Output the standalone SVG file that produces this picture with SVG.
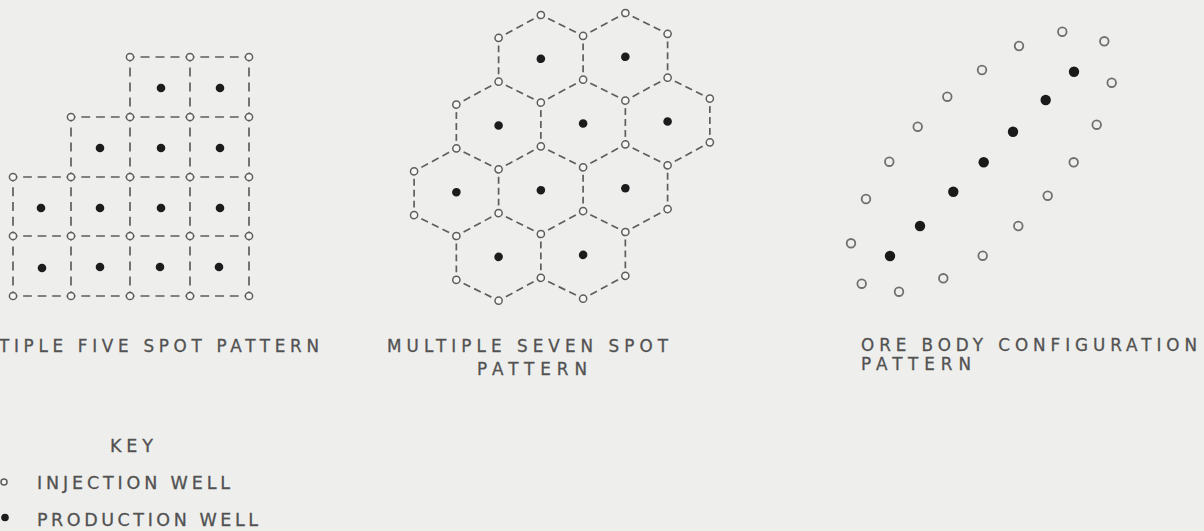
<svg xmlns="http://www.w3.org/2000/svg" width="1204" height="531" viewBox="0 0 1204 531">
<style>
.bg{fill:#eeeeec}
.e5{stroke:#5e5e5e;stroke-width:1.7;fill:none;stroke-dasharray:9 6;stroke-dashoffset:4.5}
.e7{stroke:#5e5e5e;stroke-width:1.7;fill:none;stroke-dasharray:7.5 4.5;stroke-dashoffset:3.75}
.inj{fill:#f6f6f4;stroke:#5e5e5e;stroke-width:1.5}
.prod{fill:#1c1c1c}
.oinj{fill:none;stroke:#707070;stroke-width:1.8}
.oprod{fill:#1a1a1a}
.t{font-family:"DejaVu Sans","Liberation Sans",Arial,sans-serif;font-size:16.8px;fill:#525252;stroke:#525252;stroke-width:0.3}
.k{font-size:17.5px}
</style>
<rect class="bg" x="0" y="0" width="1204" height="531"/>

<!-- Multiple five spot pattern -->
<g id="five-spot">
  <g id="five-spot-connectors">
    <line class="e5" pathLength="60" x1="130" y1="57" x2="190" y2="57"/>
    <line class="e5" pathLength="60" x1="190" y1="57" x2="249" y2="57"/>
    <line class="e5" pathLength="60" x1="71" y1="117" x2="130" y2="117"/>
    <line class="e5" pathLength="60" x1="130" y1="117" x2="190" y2="117"/>
    <line class="e5" pathLength="60" x1="190" y1="117" x2="249" y2="117"/>
    <line class="e5" pathLength="60" x1="13" y1="177" x2="71" y2="177"/>
    <line class="e5" pathLength="60" x1="71" y1="177" x2="130" y2="177"/>
    <line class="e5" pathLength="60" x1="130" y1="177" x2="190" y2="177"/>
    <line class="e5" pathLength="60" x1="190" y1="177" x2="249" y2="177"/>
    <line class="e5" pathLength="60" x1="13" y1="236" x2="71" y2="236"/>
    <line class="e5" pathLength="60" x1="71" y1="236" x2="130" y2="236"/>
    <line class="e5" pathLength="60" x1="130" y1="236" x2="190" y2="236"/>
    <line class="e5" pathLength="60" x1="190" y1="236" x2="249" y2="236"/>
    <line class="e5" pathLength="60" x1="13" y1="296" x2="71" y2="296"/>
    <line class="e5" pathLength="60" x1="71" y1="296" x2="130" y2="296"/>
    <line class="e5" pathLength="60" x1="130" y1="296" x2="190" y2="296"/>
    <line class="e5" pathLength="60" x1="190" y1="296" x2="249" y2="296"/>
    <line class="e5" pathLength="60" x1="13" y1="177" x2="13" y2="236"/>
    <line class="e5" pathLength="60" x1="13" y1="236" x2="13" y2="296"/>
    <line class="e5" pathLength="60" x1="71" y1="117" x2="71" y2="177"/>
    <line class="e5" pathLength="60" x1="71" y1="177" x2="71" y2="236"/>
    <line class="e5" pathLength="60" x1="71" y1="236" x2="71" y2="296"/>
    <line class="e5" pathLength="60" x1="130" y1="57" x2="130" y2="117"/>
    <line class="e5" pathLength="60" x1="130" y1="117" x2="130" y2="177"/>
    <line class="e5" pathLength="60" x1="130" y1="177" x2="130" y2="236"/>
    <line class="e5" pathLength="60" x1="130" y1="236" x2="130" y2="296"/>
    <line class="e5" pathLength="60" x1="190" y1="57" x2="190" y2="117"/>
    <line class="e5" pathLength="60" x1="190" y1="117" x2="190" y2="177"/>
    <line class="e5" pathLength="60" x1="190" y1="177" x2="190" y2="236"/>
    <line class="e5" pathLength="60" x1="190" y1="236" x2="190" y2="296"/>
    <line class="e5" pathLength="60" x1="249" y1="57" x2="249" y2="117"/>
    <line class="e5" pathLength="60" x1="249" y1="117" x2="249" y2="177"/>
    <line class="e5" pathLength="60" x1="249" y1="177" x2="249" y2="236"/>
    <line class="e5" pathLength="60" x1="249" y1="236" x2="249" y2="296"/>
  </g>
  <g id="five-spot-injection">
    <circle class="inj" cx="130" cy="57" r="3.6"/><circle class="inj" cx="190" cy="57" r="3.6"/><circle class="inj" cx="249" cy="57" r="3.6"/>
    <circle class="inj" cx="71" cy="117" r="3.6"/><circle class="inj" cx="130" cy="117" r="3.6"/><circle class="inj" cx="190" cy="117" r="3.6"/><circle class="inj" cx="249" cy="117" r="3.6"/>
    <circle class="inj" cx="13" cy="177" r="3.6"/><circle class="inj" cx="71" cy="177" r="3.6"/><circle class="inj" cx="130" cy="177" r="3.6"/><circle class="inj" cx="190" cy="177" r="3.6"/><circle class="inj" cx="249" cy="177" r="3.6"/>
    <circle class="inj" cx="13" cy="236" r="3.6"/><circle class="inj" cx="71" cy="236" r="3.6"/><circle class="inj" cx="130" cy="236" r="3.6"/><circle class="inj" cx="190" cy="236" r="3.6"/><circle class="inj" cx="249" cy="236" r="3.6"/>
    <circle class="inj" cx="13" cy="296" r="3.6"/><circle class="inj" cx="71" cy="296" r="3.6"/><circle class="inj" cx="130" cy="296" r="3.6"/><circle class="inj" cx="190" cy="296" r="3.6"/><circle class="inj" cx="249" cy="296" r="3.6"/>
  </g>
  <g id="five-spot-production">
    <circle class="prod" cx="161" cy="88" r="4.3"/><circle class="prod" cx="220" cy="88" r="4.3"/>
    <circle class="prod" cx="100" cy="148" r="4.3"/><circle class="prod" cx="161" cy="148" r="4.3"/><circle class="prod" cx="220" cy="148" r="4.3"/>
    <circle class="prod" cx="41" cy="208" r="4.3"/><circle class="prod" cx="100" cy="208" r="4.3"/><circle class="prod" cx="161" cy="208" r="4.3"/><circle class="prod" cx="220" cy="208" r="4.3"/>
    <circle class="prod" cx="42" cy="268" r="4.3"/><circle class="prod" cx="100" cy="267" r="4.3"/><circle class="prod" cx="160" cy="267" r="4.3"/><circle class="prod" cx="219" cy="267" r="4.3"/>
  </g>
</g>

<!-- Multiple seven spot pattern -->
<g id="seven-spot" transform="translate(583.1,123.5) skewY(-1.36)">
  <g id="seven-spot-connectors">
    <line class="e7" pathLength="48" x1="-84.5" y1="-87.6" x2="-84.5" y2="-43.8"/>
    <line class="e7" pathLength="48" x1="0" y1="-87.6" x2="0" y2="-43.8"/>
    <line class="e7" pathLength="48" x1="84.5" y1="-87.6" x2="84.5" y2="-43.8"/>
    <line class="e7" pathLength="48" x1="-126.75" y1="-21.9" x2="-126.75" y2="21.9"/>
    <line class="e7" pathLength="48" x1="-42.25" y1="-21.9" x2="-42.25" y2="21.9"/>
    <line class="e7" pathLength="48" x1="42.25" y1="-21.9" x2="42.25" y2="21.9"/>
    <line class="e7" pathLength="48" x1="126.75" y1="-21.9" x2="126.75" y2="21.9"/>
    <line class="e7" pathLength="48" x1="-169" y1="43.8" x2="-169" y2="87.6"/>
    <line class="e7" pathLength="48" x1="-84.5" y1="43.8" x2="-84.5" y2="87.6"/>
    <line class="e7" pathLength="48" x1="0" y1="43.8" x2="0" y2="87.6"/>
    <line class="e7" pathLength="48" x1="84.5" y1="43.8" x2="84.5" y2="87.6"/>
    <line class="e7" pathLength="48" x1="-126.75" y1="109.5" x2="-126.75" y2="153.3"/>
    <line class="e7" pathLength="48" x1="-42.25" y1="109.5" x2="-42.25" y2="153.3"/>
    <line class="e7" pathLength="48" x1="42.25" y1="109.5" x2="42.25" y2="153.3"/>

    <line class="e7" pathLength="48" x1="-42.25" y1="-109.5" x2="0" y2="-87.6"/>
    <line class="e7" pathLength="48" x1="-42.25" y1="-109.5" x2="-84.5" y2="-87.6"/>
    <line class="e7" pathLength="48" x1="-42.25" y1="-21.9" x2="0" y2="-43.8"/>
    <line class="e7" pathLength="48" x1="-42.25" y1="-21.9" x2="-84.5" y2="-43.8"/>
    <line class="e7" pathLength="48" x1="42.25" y1="-109.5" x2="84.5" y2="-87.6"/>
    <line class="e7" pathLength="48" x1="42.25" y1="-109.5" x2="0" y2="-87.6"/>
    <line class="e7" pathLength="48" x1="42.25" y1="-21.9" x2="84.5" y2="-43.8"/>
    <line class="e7" pathLength="48" x1="42.25" y1="-21.9" x2="0" y2="-43.8"/>

    <line class="e7" pathLength="48" x1="-84.5" y1="-43.8" x2="-126.75" y2="-21.9"/>
    <line class="e7" pathLength="48" x1="-84.5" y1="43.8" x2="-42.25" y2="21.9"/>
    <line class="e7" pathLength="48" x1="-84.5" y1="43.8" x2="-126.75" y2="21.9"/>
    <line class="e7" pathLength="48" x1="0" y1="43.8" x2="42.25" y2="21.9"/>
    <line class="e7" pathLength="48" x1="0" y1="43.8" x2="-42.25" y2="21.9"/>
    <line class="e7" pathLength="48" x1="84.5" y1="-43.8" x2="126.75" y2="-21.9"/>
    <line class="e7" pathLength="48" x1="84.5" y1="43.8" x2="126.75" y2="21.9"/>
    <line class="e7" pathLength="48" x1="84.5" y1="43.8" x2="42.25" y2="21.9"/>

    <line class="e7" pathLength="48" x1="-126.75" y1="21.9" x2="-169" y2="43.8"/>
    <line class="e7" pathLength="48" x1="-126.75" y1="109.5" x2="-84.5" y2="87.6"/>
    <line class="e7" pathLength="48" x1="-126.75" y1="109.5" x2="-169" y2="87.6"/>
    <line class="e7" pathLength="48" x1="-42.25" y1="109.5" x2="0" y2="87.6"/>
    <line class="e7" pathLength="48" x1="-42.25" y1="109.5" x2="-84.5" y2="87.6"/>
    <line class="e7" pathLength="48" x1="42.25" y1="109.5" x2="84.5" y2="87.6"/>
    <line class="e7" pathLength="48" x1="42.25" y1="109.5" x2="0" y2="87.6"/>

    <line class="e7" pathLength="48" x1="-84.5" y1="175.2" x2="-42.25" y2="153.3"/>
    <line class="e7" pathLength="48" x1="-84.5" y1="175.2" x2="-126.75" y2="153.3"/>
    <line class="e7" pathLength="48" x1="0" y1="175.2" x2="42.25" y2="153.3"/>
    <line class="e7" pathLength="48" x1="0" y1="175.2" x2="-42.25" y2="153.3"/>
  </g>
  <g id="seven-spot-injection">
    <circle class="inj" cx="-42.25" cy="-109.5" r="3.6"/><circle class="inj" cx="42.25" cy="-109.5" r="3.6"/>
    <circle class="inj" cx="-84.5" cy="-87.6" r="3.6"/><circle class="inj" cx="0" cy="-87.6" r="3.6"/><circle class="inj" cx="84.5" cy="-87.6" r="3.6"/>
    <circle class="inj" cx="-84.5" cy="-43.8" r="3.6"/><circle class="inj" cx="0" cy="-43.8" r="3.6"/><circle class="inj" cx="84.5" cy="-43.8" r="3.6"/>
    <circle class="inj" cx="-126.75" cy="-21.9" r="3.6"/><circle class="inj" cx="-42.25" cy="-21.9" r="3.6"/><circle class="inj" cx="42.25" cy="-21.9" r="3.6"/><circle class="inj" cx="126.75" cy="-21.9" r="3.6"/>
    <circle class="inj" cx="-126.75" cy="21.9" r="3.6"/><circle class="inj" cx="-42.25" cy="21.9" r="3.6"/><circle class="inj" cx="42.25" cy="21.9" r="3.6"/><circle class="inj" cx="126.75" cy="21.9" r="3.6"/>
    <circle class="inj" cx="-169" cy="43.8" r="3.6"/><circle class="inj" cx="-84.5" cy="43.8" r="3.6"/><circle class="inj" cx="0" cy="43.8" r="3.6"/><circle class="inj" cx="84.5" cy="43.8" r="3.6"/>
    <circle class="inj" cx="-169" cy="87.6" r="3.6"/><circle class="inj" cx="-84.5" cy="87.6" r="3.6"/><circle class="inj" cx="0" cy="87.6" r="3.6"/><circle class="inj" cx="84.5" cy="87.6" r="3.6"/>
    <circle class="inj" cx="-126.75" cy="109.5" r="3.6"/><circle class="inj" cx="-42.25" cy="109.5" r="3.6"/><circle class="inj" cx="42.25" cy="109.5" r="3.6"/>
    <circle class="inj" cx="-126.75" cy="153.3" r="3.6"/><circle class="inj" cx="-42.25" cy="153.3" r="3.6"/><circle class="inj" cx="42.25" cy="153.3" r="3.6"/>
    <circle class="inj" cx="-84.5" cy="175.2" r="3.6"/><circle class="inj" cx="0" cy="175.2" r="3.6"/>
  </g>
  <g id="seven-spot-production">
    <circle class="prod" cx="-42.25" cy="-65.7" r="4.3"/><circle class="prod" cx="42.25" cy="-65.7" r="4.3"/>
    <circle class="prod" cx="-84.5" cy="0" r="4.3"/><circle class="prod" cx="0" cy="0" r="4.3"/><circle class="prod" cx="84.5" cy="0" r="4.3"/>
    <circle class="prod" cx="-126.75" cy="65.7" r="4.3"/><circle class="prod" cx="-42.25" cy="65.7" r="4.3"/><circle class="prod" cx="42.25" cy="65.7" r="4.3"/>
    <circle class="prod" cx="-84.5" cy="131.4" r="4.3"/><circle class="prod" cx="0" cy="131.4" r="4.3"/>
  </g>
</g>

<!-- Ore body configuration pattern -->
<g id="ore-body">
  <g id="ore-body-injection">
    <circle class="oinj" cx="1062.3" cy="31.7" r="4.3"/>
    <circle class="oinj" cx="1104.3" cy="41.3" r="4.3"/>
    <circle class="oinj" cx="1019" cy="46" r="4.3"/>
    <circle class="oinj" cx="982" cy="70" r="4.3"/>
    <circle class="oinj" cx="1111.7" cy="82.7" r="4.3"/>
    <circle class="oinj" cx="947.3" cy="96.7" r="4.3"/>
    <circle class="oinj" cx="917.7" cy="126.7" r="4.3"/>
    <circle class="oinj" cx="1096.7" cy="124.7" r="4.3"/>
    <circle class="oinj" cx="889.3" cy="161.7" r="4.3"/>
    <circle class="oinj" cx="1073.7" cy="162.3" r="4.3"/>
    <circle class="oinj" cx="866" cy="199" r="4.3"/>
    <circle class="oinj" cx="1047.7" cy="195.7" r="4.3"/>
    <circle class="oinj" cx="1018.3" cy="226" r="4.3"/>
    <circle class="oinj" cx="851" cy="243.3" r="4.3"/>
    <circle class="oinj" cx="982.7" cy="255.7" r="4.3"/>
    <circle class="oinj" cx="861.7" cy="283.7" r="4.3"/>
    <circle class="oinj" cx="943.3" cy="278.3" r="4.3"/>
    <circle class="oinj" cx="899" cy="291.7" r="4.3"/>
  </g>
  <g id="ore-body-production">
    <circle class="oprod" cx="1074" cy="71.7" r="5.2"/>
    <circle class="oprod" cx="1045.7" cy="100" r="5.2"/>
    <circle class="oprod" cx="1013" cy="131.7" r="5.2"/>
    <circle class="oprod" cx="983.7" cy="162.3" r="5.2"/>
    <circle class="oprod" cx="953.3" cy="191.7" r="5.2"/>
    <circle class="oprod" cx="920" cy="226" r="5.2"/>
    <circle class="oprod" cx="890" cy="256" r="5.2"/>
  </g>
</g>

<!-- Labels -->
<g id="labels">
  <text class="t" x="-1" y="352" textLength="320">TIPLE FIVE SPOT PATTERN</text>
  <text class="t" x="387" y="352" textLength="281">MULTIPLE SEVEN SPOT</text>
  <text class="t" x="477" y="375" textLength="110">PATTERN</text>
  <text class="t" x="861" y="351" textLength="336">ORE BODY CONFIGURATION</text>
  <text class="t" x="861" y="370" textLength="110">PATTERN</text>
</g>

<!-- Key -->
<g id="key">
  <text class="t k" x="110" y="452" textLength="43">KEY</text>
  <circle class="inj" cx="4" cy="482" r="3"/>
  <text class="t k" x="37" y="489" textLength="193">INJECTION WELL</text>
  <circle class="prod" cx="5" cy="517.5" r="3.8"/>
  <text class="t k" x="37" y="526" textLength="221">PRODUCTION WELL</text>
</g>
</svg>
